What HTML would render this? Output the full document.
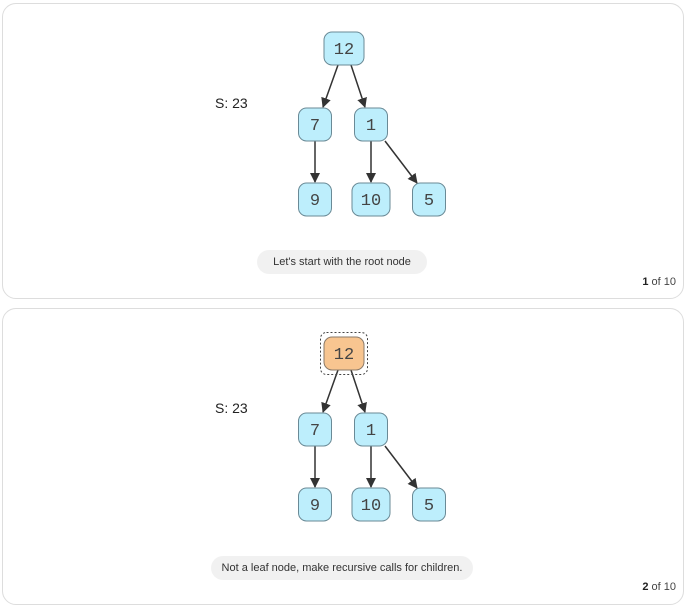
<!DOCTYPE html>
<html><head><style>
body{margin:0;width:690px;height:609px;background:#fff;overflow:hidden;font-family:"Liberation Sans",sans-serif}
.panel{position:absolute;left:2px;width:680px;border:1px solid #ddd;border-radius:14px;background:#fff}
svg{position:absolute;left:0;top:0}
.pill{position:absolute;background:#f1f1f1;border-radius:12px;font-size:11px;color:#333;text-align:center;line-height:24px}
.cnt{position:absolute;right:14px;font-size:11px;color:#444}
</style></head><body>
<div class="panel" style="top:3px;height:294px"></div>
<div class="panel" style="top:308px;height:295px"></div>
<svg width="690" height="609">
<defs><marker id="a" markerWidth="10" markerHeight="10" refX="9" refY="5" orient="auto" markerUnits="userSpaceOnUse"><path d="M0,0 L10,5 L0,10z" fill="#333"/></marker>
<g id="tree">
<line x1="338" y1="65" x2="323" y2="107" stroke="#333" stroke-width="1.5" marker-end="url(#a)"/>
<line x1="351" y1="65" x2="365" y2="107" stroke="#333" stroke-width="1.5" marker-end="url(#a)"/>
<line x1="315" y1="141" x2="315" y2="182" stroke="#333" stroke-width="1.5" marker-end="url(#a)"/>
<line x1="371" y1="141" x2="371" y2="182" stroke="#333" stroke-width="1.5" marker-end="url(#a)"/>
<line x1="385" y1="141" x2="417" y2="183" stroke="#333" stroke-width="1.5" marker-end="url(#a)"/>
<g fill="#bdeefc" stroke="#6a8a96" stroke-width="1">
<rect x="298.5" y="108" width="33" height="33" rx="8"/>
<rect x="354.5" y="108" width="33" height="33" rx="8"/>
<rect x="298.5" y="183" width="33" height="33" rx="8"/>
<rect x="352" y="183" width="38" height="33" rx="8"/>
<rect x="412.5" y="183" width="33" height="33" rx="8"/>
</g>
<g font-family="Liberation Mono,monospace" font-size="17" fill="#444" text-anchor="middle">
<text x="315" y="130">7</text><text x="371" y="130">1</text>
<text x="315" y="205">9</text><text x="371" y="205">10</text><text x="429" y="205">5</text>
</g>
<text x="215" y="108" font-size="14" fill="#222">S: 23</text>
</g></defs>
<use href="#tree"/>
<rect x="324" y="32" width="40" height="33" rx="8" fill="#bdeefc" stroke="#6a8a96"/>
<text x="344" y="54" font-family="Liberation Mono,monospace" font-size="17" fill="#444" text-anchor="middle">12</text>
<use href="#tree" y="305"/>
<rect x="320.5" y="332.5" width="47" height="42" rx="6" fill="none" stroke="#444" stroke-dasharray="2,2"/>
<rect x="324" y="337" width="40" height="33" rx="8" fill="#f8c590" stroke="#8a7a6a"/>
<text x="344" y="359" font-family="Liberation Mono,monospace" font-size="17" fill="#444" text-anchor="middle">12</text>
</svg>
<div class="pill" style="left:257px;top:250px;width:170px">Let's start with the root node</div>
<div class="cnt" style="top:276px"><b style="color:#222">1</b> of 10</div>
<div class="pill" style="left:211px;top:556px;width:262px">Not a leaf node, make recursive calls for children.</div>
<div class="cnt" style="top:581px"><b style="color:#222">2</b> of 10</div>
</body></html>
